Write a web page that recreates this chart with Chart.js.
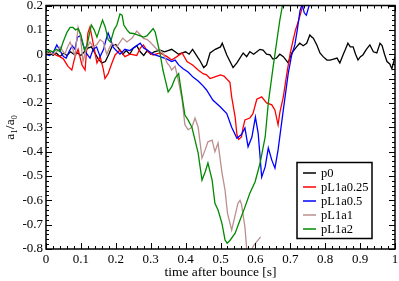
<!DOCTYPE html>
<html>
<head>
<meta charset="utf-8">
<script src="https://cdn.jsdelivr.net/npm/chart.js@4"></script>
<style>
  html, body { margin: 0; padding: 0; background: #fff; }
  #wrap { width: 399px; height: 281px; }
</style>
</head>
<body>
<div id="wrap"><canvas id="chart"></canvas></div>
<script>
// Series labels and colours
const seriesNames = ['p0', 'pL1a0.25', 'pL1a0.5', 'pL1a1', 'pL1a2'];
const seriesColors = ['#000000', '#ff0000', '#0000ff', '#bc8f8f', '#008b00'];

// p0
const tP0 = [0, 0.01, 0.02, 0.03, 0.04, 0.05, 0.06, 0.07, 0.08, 0.09, 0.10, 0.11, 0.12, 0.13, 0.14, 0.15, 0.16, 0.17, 0.18, 0.19,
  0.20, 0.21, 0.22, 0.23, 0.24, 0.25, 0.26, 0.27, 0.28, 0.29, 0.30, 0.31, 0.327, 0.34, 0.36, 0.38, 0.40, 0.41, 0.42, 0.44,
  0.452, 0.46, 0.47, 0.485, 0.50, 0.505, 0.518, 0.536, 0.547, 0.565, 0.575, 0.584, 0.595, 0.604, 0.613, 0.622, 0.632, 0.642, 0.65, 0.66,
  0.67, 0.68, 0.694, 0.704, 0.718, 0.727, 0.737, 0.747, 0.756, 0.762, 0.766, 0.776, 0.785, 0.794, 0.805, 0.814, 0.824, 0.834, 0.842, 0.851,
  0.858, 0.865, 0.872, 0.88, 0.887, 0.894, 0.901, 0.908, 0.918, 0.928, 0.938, 0.948, 0.957, 0.963, 0.97, 0.977, 0.985, 0.991, 1.0];
const vP0 = [0, 0.01, -0.005, 0.005, -0.01, 0.005, -0.005, 0.01, 0, 0.005, -0.005, 0.01, 0.025, 0.03, 0.005, -0.02, -0.036, -0.03, 0, 0.035,
  0.04, 0.02, 0, 0.015, 0, 0.025, 0.035, 0.01, -0.005, 0.015, 0, 0.01, 0.017, 0.01, 0.02, 0, 0.01, 0, 0.02, -0.024,
  -0.055, -0.044, 0.005, 0.02, 0.03, 0.045, -0.003, -0.055, -0.036, 0.005, -0.01, 0.01, 0, 0.01, 0.02, 0.017, 0, -0.003, -0.02, -0.016,
  0, -0.01, -0.036, 0.005, 0.03, 0.045, 0.035, 0.045, 0.079, 0.07, 0.066, 0.038, 0.005, -0.01, -0.024, -0.024, -0.02, -0.016, -0.036, -0.003,
  0.02, 0.045, 0.03, 0.03, 0, -0.024, -0.01, -0.003, 0.02, 0.038, 0.01, 0.005, 0.045, 0.035, 0, -0.03, -0.04, -0.06, -0.01];

// pL1a0.25
const tA025 = [0, 0.011, 0.02, 0.03, 0.04, 0.05, 0.063, 0.074, 0.083, 0.092, 0.103, 0.112, 0.12, 0.126, 0.135, 0.146, 0.155, 0.164, 0.169, 0.178,
  0.189, 0.198, 0.212, 0.226, 0.241, 0.26, 0.27, 0.279, 0.292, 0.307, 0.327, 0.347, 0.36, 0.375, 0.39, 0.404, 0.42, 0.436, 0.45, 0.46,
  0.47, 0.48, 0.49, 0.50, 0.51, 0.52, 0.527, 0.532, 0.542, 0.547, 0.552, 0.56, 0.565, 0.57, 0.584, 0.593, 0.604, 0.618, 0.632, 0.647,
  0.656, 0.665, 0.67, 0.68, 0.69, 0.70, 0.708, 0.715, 0.722, 0.73, 0.738];
const vA025 = [0, 0, 0.005, -0.005, -0.01, -0.02, -0.05, -0.065, -0.01, 0.02, -0.044, -0.065, 0.087, 0.112, 0.045, -0.036, -0.01, -0.06, -0.1, -0.08,
  -0.036, -0.003, 0.017, -0.01, 0, -0.005, 0.025, 0.038, 0.01, -0.003, 0.005, -0.01, -0.024, -0.01, 0.005, -0.03, -0.044, -0.065, -0.08, -0.085,
  -0.1, -0.095, -0.09, -0.085, -0.09, -0.105, -0.115, -0.175, -0.258, -0.33, -0.35, -0.34, -0.3, -0.27, -0.262, -0.244, -0.185, -0.175, -0.2, -0.208,
  -0.23, -0.29, -0.24, -0.175, -0.08, 0.005, 0.058, 0.1, 0.13, 0.17, 0.21];

// pL1a0.5
const tA05 = [0, 0.01, 0.02, 0.031, 0.04, 0.05, 0.058, 0.066, 0.075, 0.083, 0.09, 0.098, 0.106, 0.115, 0.126, 0.135, 0.145, 0.155, 0.165, 0.172,
  0.178, 0.185, 0.192, 0.2, 0.212, 0.226, 0.24, 0.255, 0.27, 0.28, 0.29, 0.307, 0.327, 0.347, 0.36, 0.37, 0.38, 0.393, 0.407, 0.422,
  0.436, 0.45, 0.46, 0.478, 0.499, 0.518, 0.532, 0.547, 0.56, 0.57, 0.579, 0.59, 0.60, 0.608, 0.618, 0.628, 0.637, 0.647, 0.656, 0.665,
  0.675, 0.685, 0.694, 0.704, 0.713, 0.72, 0.728, 0.734, 0.74, 0.746, 0.752, 0.758];
const vA05 = [0, -0.005, 0.005, 0.038, 0.015, -0.01, -0.016, 0.01, 0.035, 0.02, 0.07, 0.075, 0.04, 0.005, -0.016, 0.02, 0.03, -0.01, 0.02, 0.06,
  0.087, 0.06, 0.03, 0.017, 0, 0.02, 0.015, 0.03, 0.045, 0.025, 0.017, 0, -0.01, -0.02, -0.03, -0.024, -0.044, -0.06, -0.073, -0.095,
  -0.11, -0.13, -0.147, -0.188, -0.216, -0.244, -0.3, -0.345, -0.33, -0.303, -0.38, -0.34, -0.258, -0.325, -0.505, -0.463, -0.385, -0.435, -0.468, -0.393,
  -0.283, -0.175, -0.08, -0.003, 0.038, 0.1, 0.18, 0.205, 0.17, 0.16, 0.19, 0.22];

// pL1a1
const tA1 = [0, 0.01, 0.02, 0.03, 0.04, 0.054, 0.062, 0.069, 0.077, 0.083, 0.088, 0.092, 0.098, 0.106, 0.115, 0.126, 0.135, 0.146, 0.155, 0.164,
  0.174, 0.183, 0.189, 0.203, 0.212, 0.22, 0.232, 0.246, 0.26, 0.27, 0.279, 0.29, 0.298, 0.308, 0.318, 0.327, 0.335, 0.347, 0.355, 0.36,
  0.37, 0.38, 0.39, 0.398, 0.407, 0.418, 0.427, 0.436, 0.447, 0.456, 0.464, 0.476, 0.484, 0.493, 0.504, 0.513, 0.52, 0.532, 0.542, 0.55,
  0.556, 0.56, 0.57, 0.576, 0.584, 0.593, 0.604, 0.615];
const vA1 = [0, 0.005, 0, 0.01, 0.03, 0, 0.03, 0.05, 0.02, -0.01, 0.06, 0.11, 0.08, -0.03, 0.02, 0.05, 0.03, 0.04, 0.06, 0.05,
  0, 0.03, 0.045, 0.03, 0.05, 0.066, 0.05, 0.065, 0.095, 0.08, 0.065, 0.06, 0.05, 0.035, 0.02, 0.015, 0.005, -0.036, -0.05, -0.065,
  -0.05, -0.114, -0.188, -0.29, -0.31, -0.3, -0.262, -0.3, -0.427, -0.393, -0.36, -0.353, -0.401, -0.365, -0.484, -0.558, -0.653, -0.723, -0.661, -0.612,
  -0.6, -0.615, -0.71, -0.816, -0.83, -0.79, -0.77, -0.75];

// pL1a2
const tA2 = [0, 0.01, 0.02, 0.03, 0.04, 0.049, 0.06, 0.069, 0.077, 0.085, 0.092, 0.1, 0.11, 0.118, 0.13, 0.138, 0.146, 0.155, 0.162, 0.17,
  0.178, 0.185, 0.195, 0.203, 0.212, 0.218, 0.223, 0.232, 0.24, 0.25, 0.26, 0.27, 0.28, 0.289, 0.298, 0.307, 0.313, 0.32, 0.327, 0.335,
  0.341, 0.35, 0.36, 0.37, 0.38, 0.39, 0.398, 0.407, 0.418, 0.427, 0.436, 0.447, 0.456, 0.464, 0.476, 0.484, 0.493, 0.504, 0.513, 0.519,
  0.527, 0.542, 0.556, 0.57, 0.584, 0.599, 0.613, 0.628, 0.637, 0.651, 0.66, 0.67, 0.68];
const vA2 = [0.01, 0.015, 0.01, 0.02, 0.01, 0.05, 0.09, 0.11, 0.11, 0.1, 0.105, 0.08, 0.017, 0.04, 0.12, 0.1, 0.07, 0.11, 0.14, 0.11,
  0.06, 0.05, 0.1, 0.12, 0.165, 0.16, 0.12, 0.1, 0.087, 0.085, 0.08, 0.075, 0.07, 0.075, 0.09, 0.105, 0.09, 0.045, 0, -0.065,
  -0.1, -0.155, -0.134, -0.098, -0.08, -0.175, -0.25, -0.27, -0.3, -0.353, -0.406, -0.517, -0.484, -0.447, -0.517, -0.612, -0.64, -0.694, -0.763, -0.776,
  -0.765, -0.735, -0.681, -0.628, -0.571, -0.525, -0.45, -0.34, -0.2, -0.05, 0.04, 0.14, 0.22];

// Axis ticks
const xMin = 0, xMax = 1, xStep = 0.1, xMinor = 0.02;
const yMin = -0.8, yMax = 0.2, yStep = 0.1, yMinor = 0.02;

const seriesT = [tP0, tA025, tA05, tA1, tA2];
const seriesV = [vP0, vA025, vA05, vA1, vA2];

const serif = '"Liberation Serif", "DejaVu Serif", serif';

function fmt(v) {
    return (Math.round(v * 10) / 10).toString();
}

// Marcos, ticks interiores y leyenda al estilo xmgrace
const framePlugin = {
    id: 'frame',
    afterDatasetsDraw(chart) {
        const ctx = chart.ctx;
        const a = chart.chartArea;
        const xs = chart.scales.x, ys = chart.scales.y;
        ctx.save();
        ctx.strokeStyle = '#000';
        ctx.lineWidth = 1.5;
        ctx.strokeRect(a.left, a.top, a.right - a.left, a.bottom - a.top);

        ctx.lineWidth = 1;
        ctx.beginPath();
        const nx = Math.round((xMax - xMin) / xMinor);
        for (let k = 0; k <= nx; k++) {
            const px = Math.round(xs.getPixelForValue(xMin + k * xMinor)) + 0.5;
            const len = k % 5 === 0 ? 6 : 3;
            ctx.moveTo(px, a.bottom); ctx.lineTo(px, a.bottom - len);
            ctx.moveTo(px, a.top); ctx.lineTo(px, a.top + len);
        }
        const ny = Math.round((yMax - yMin) / yMinor);
        for (let k = 0; k <= ny; k++) {
            const py = Math.round(ys.getPixelForValue(yMin + k * yMinor)) + 0.5;
            const len = k % 5 === 0 ? 6 : 3;
            ctx.moveTo(a.left, py); ctx.lineTo(a.left + len, py);
            ctx.moveTo(a.right, py); ctx.lineTo(a.right - len, py);
        }
        ctx.stroke();

        // leyenda
        const bx = a.right - 98, by = a.top + 157, bw = 75, bh = 76;
        ctx.fillStyle = '#fff';
        ctx.fillRect(bx, by, bw, bh);
        ctx.lineWidth = 1.5;
        ctx.strokeRect(bx, by, bw, bh);
        ctx.font = '12.5px ' + serif;
        ctx.textBaseline = 'middle';
        ctx.textAlign = 'left';
        chart.data.datasets.forEach((ds, i) => {
            const yy = by + 10.5 + i * 14;
            ctx.strokeStyle = ds.borderColor;
            ctx.lineWidth = 1.5;
            ctx.beginPath();
            ctx.moveTo(bx + 6, yy); ctx.lineTo(bx + 19, yy);
            ctx.stroke();
            ctx.fillStyle = '#000';
            ctx.fillText(ds.label, bx + 24, yy + 0.5);
        });
        ctx.restore();
    }
};

const datasets = seriesNames.map((name, i) => ({
    label: name,
    data: seriesT[i].map((t, j) => ({ x: t, y: seriesV[i][j] })),
    borderColor: seriesColors[i],
    borderWidth: 1.3,
    pointRadius: 0,
    tension: 0,
    fill: false,
    order: seriesNames.length - i
}));

new Chart(document.getElementById('chart').getContext('2d'), {
    type: 'line',
    data: { datasets: datasets },
    options: {
        responsive: true,
        maintainAspectRatio: false,
        animation: false,
        layout: { padding: { left: 0, right: 4, top: 5.5, bottom: 0 } },
        plugins: { legend: { display: false }, tooltip: { enabled: false } },
        scales: {
            x: {
                type: 'linear',
                min: xMin,
                max: xMax,
                grid: { display: false, drawTicks: false },
                border: { display: false },
                ticks: { stepSize: xStep, padding: 3, color: '#000', font: { family: serif, size: 13 }, callback: fmt, maxRotation: 0 },
                title: { display: true, text: 'time after bounce [s]', color: '#000', font: { family: serif, size: 13.5 }, padding: 0 },
                afterFit(scale) { scale.height = 32; scale.paddingLeft = 0; scale.paddingRight = 0; }
            },
            y: {
                type: 'linear',
                min: yMin,
                max: yMax,
                grid: { display: false, drawTicks: false },
                border: { display: false },
                ticks: { stepSize: yStep, padding: 3, color: '#000', font: { family: serif, size: 13 }, callback: fmt },
                title: { display: true, text: 'a₁/a₀', color: '#000', font: { family: serif, size: 13.5 }, padding: 2 },
                afterFit(scale) { scale.width = 46; scale.paddingTop = 0; scale.paddingBottom = 0; }
            }
        }
    },
    plugins: [framePlugin]
});
</script>
</body>
</html>
